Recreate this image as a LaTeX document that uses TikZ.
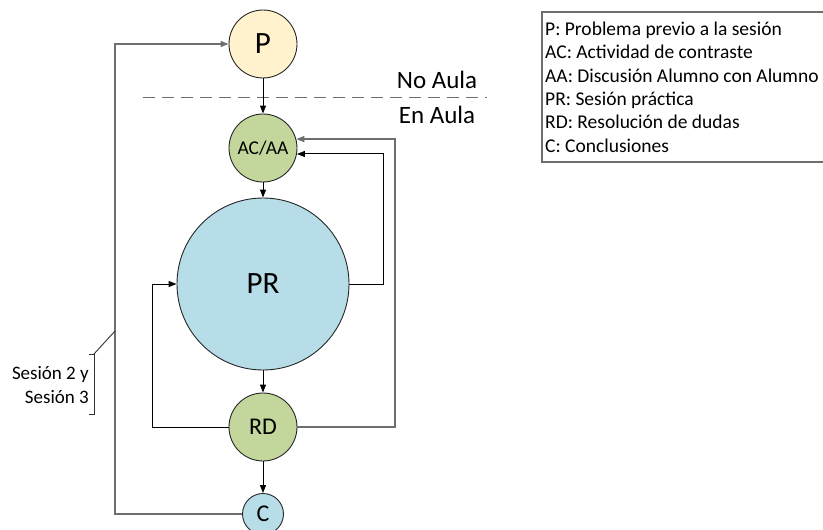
\documentclass[tikz,border=0pt]{standalone}
\usepackage{fontspec}
\setmainfont{Carlito}
\usetikzlibrary{arrows.meta}
\definecolor{pyellow}{HTML}{FFF2CC}
\definecolor{pgreen}{HTML}{C3D69B}
\definecolor{pblue}{HTML}{B7DEE8}
\definecolor{lgray}{HTML}{6E6E6E}
\tikzset{
  stage/.style={circle, draw=black!85, line width=0.9pt, inner sep=0pt},
  flow/.style={line width=1pt, draw=black, -{Triangle[length=8pt,width=6pt]}},
  loopg/.style={line width=1.4pt, draw=lgray, -{Triangle[length=8pt,width=6pt]}},
  legtxt/.style={anchor=base west, inner sep=0pt, font=\fontsize{19.5}{23}\selectfont},
  sestxt/.style={anchor=base east, inner sep=0pt, font=\fontsize{19}{23}\selectfont},
  zone/.style={inner sep=0pt, font=\fontsize{25}{30}\selectfont}
}
\begin{document}
\begin{tikzpicture}[x=1pt,y=-1pt]
\useasboundingbox (0,0) rectangle (823,530);

% stages
\node[stage, fill=pyellow, minimum size=68pt, font=\fontsize{31}{37}\selectfont] (p) at (263,44) {P};
\node[stage, fill=pgreen, minimum size=68pt, font=\fontsize{19.5}{23}\selectfont] (acaa) at (263,148) {AC/AA};
\node[stage, fill=pblue, minimum size=172pt, font=\fontsize{31}{37}\selectfont] (pr) at (263,284) {PR};
\node[stage, fill=pgreen, minimum size=68pt, font=\fontsize{24}{29}\selectfont] (rd) at (263,427) {RD};
\node[stage, fill=pblue, minimum size=41pt, font=\fontsize{24}{29}\selectfont] (c) at (263,514) {C};

% zone separator
\draw[lgray, line width=1pt, dash pattern=on 12pt off 7pt] (143,97) coordinate (dl) -- (487,97) coordinate (dr);
\node[zone] (noaula) at (437,80) {No Aula};
\node[zone] (enaula) at (437,115) {En Aula};

% straight flow
\draw[flow] (p) -- (acaa);
\draw[flow] (acaa) -- (pr);
\draw[flow] (pr) -- (rd);
\draw[flow] (rd) -- (c);

% loops
\draw[flow] (pr.east) -- (383,284) |- (acaa.-10);
\draw[loopg, line width=1.2pt] (rd.east) -- (395,427) |- (acaa.15.5);
\draw[flow] (rd.west) -- (152,427) |- (pr.west);
\draw[loopg] (c.west) -- (115,514) |- (p.west);

% bracket
\coordinate (bk) at (115,331);
\draw[black!80, line width=0.9pt] (bk) -- (94,354);
\draw[black!80, line width=0.9pt] (89,354) -- (94,354) -- (94,414) -- (89,414);
\node[sestxt] (s1) at (89,379) {Sesión 2 y};
\node[sestxt] (s2) at (89,403) {Sesión 3};

% legend
\draw[lgray, line width=1.3pt] (542,12) rectangle (830,162);
\node[legtxt] (l1) at (545,35.5) {P: Problema previo a la sesión};
\node[legtxt] (l2) at (545,58.8) {AC: Actividad de contraste};
\node[legtxt] (l3) at (545,82.1) {AA: Discusión Alumno con Alumno};
\node[legtxt] (l4) at (545,105.4) {PR: Sesión práctica};
\node[legtxt] (l5) at (545,128.7) {RD: Resolución de dudas};
\node[legtxt] (l6) at (545,152) {C: Conclusiones};
\end{tikzpicture}
\end{document}
